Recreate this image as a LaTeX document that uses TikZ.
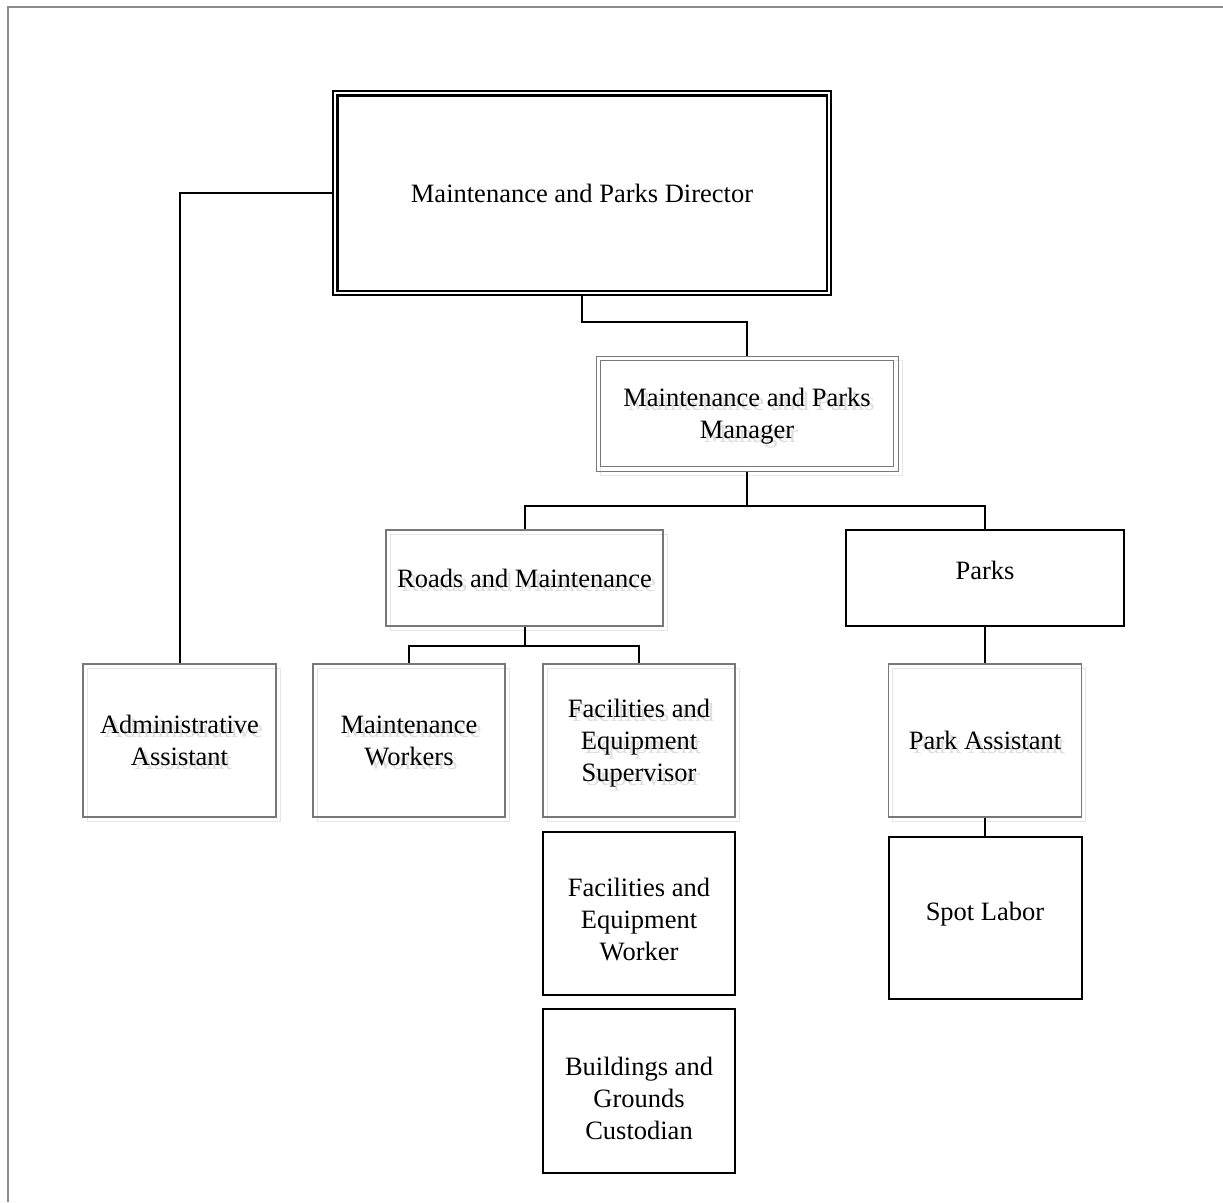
\documentclass[tikz,border=0pt]{standalone}
\usepackage{fontspec}
\setmainfont{Liberation Serif}
\definecolor{boxgrey}{HTML}{787878}
\definecolor{ghosttext}{HTML}{DEDEDE}
\definecolor{ghostline}{HTML}{E6E6E6}
\definecolor{framegrey}{HTML}{8C8C8C}

\tikzset{
  box/.style={rectangle, inner sep=0pt, align=center,
              font=\fontsize{26.5}{32}\selectfont},
  greybox/.style={box, draw=boxgrey, line width=1.2pt},
  blackbox/.style={box, draw=black, line width=2pt},
  ghostbox/.style={box, draw=ghostline, line width=1pt, text=ghosttext},
  link/.style={draw=black, line width=2pt},
  frame/.style={draw=framegrey, line width=2pt}
}

% centred lines moved up (positive) or down (negative) without changing the box size
\newcommand\movedlines[2]{%
  \raisebox{#1}[\height][\depth]{\begin{tabular}{@{}c@{}}#2\end{tabular}}}

% grey box with a light offset copy of its frame and text behind it
\newcommand\shadowedbox[6]{%
  \node[ghostbox, minimum width=#4pt, minimum height=#5pt] (#1-ghost) at (#2+4,#3+4) {#6};
  \node[greybox, minimum width=#4pt, minimum height=#5pt] (#1) at (#2,#3) {#6};
}

\begin{document}
\begin{tikzpicture}[x=1pt, y=-1pt]
\useasboundingbox (0,0) rectangle (1223,1202);

% page frame
\draw[frame] (1223,6.5) -- (7.5,6.5) -- (7.5,1202);

% director (double frame)
\node[box, draw=black, line width=1.5pt, minimum width=498pt, minimum height=204pt]
  (dir) at (582,193) {Maintenance and Parks Director};
\draw[line width=2.5pt] ([shift={(5,5)}]dir.north west) rectangle ([shift={(-5,-5)}]dir.south east);

% manager (double grey frame)
\node[ghostbox, minimum width=302pt, minimum height=115pt] (mgr-ghost) at (751,417.5)
  {\movedlines{-3pt}{Maintenance and Parks\\Manager}};
\node[box, draw=boxgrey, line width=1pt, minimum width=302pt, minimum height=115pt]
  (mgr) at (747,413.5) {\movedlines{-3pt}{Maintenance and Parks\\Manager}};
\draw[draw=boxgrey, line width=1.5pt] ([shift={(5,5)}]mgr.north west) rectangle ([shift={(-5,-5)}]mgr.south east);

% second level
\shadowedbox{roads}{524.5}{578}{277}{96}{Roads and Maintenance}
\node[blackbox, minimum width=278pt, minimum height=96pt] (parks) at (985,578)
  {\movedlines{5pt}{Parks}};

% third level
\shadowedbox{admin}{179.5}{740.5}{193}{153}{Administrative\\Assistant}
\shadowedbox{mw}{409}{740.5}{192}{153}{Maintenance\\Workers}
\shadowedbox{fes}{639}{740.5}{192}{153}{\movedlines{-3pt}{Facilities and\\Equipment\\Supervisor}}
\shadowedbox{pa}{985}{740.5}{193}{153}{Park Assistant}

% lower stacked boxes
\node[blackbox, minimum width=192pt, minimum height=163pt] (few) at (639,913.5)
  {\movedlines{-9pt}{Facilities and\\Equipment\\Worker}};
\node[blackbox, minimum width=192pt, minimum height=164pt] (bgc) at (639,1091)
  {\movedlines{-10pt}{Buildings and\\Grounds\\Custodian}};
\node[blackbox, minimum width=193pt, minimum height=162pt] (spot) at (985,918)
  {\movedlines{4pt}{Spot Labor}};

% connectors
\draw[link] (dir.west) -| (admin.north);
\draw[link] (dir.south) -- ++(0,26) -| (mgr.north);
\draw[link] (mgr.south) -- ++(0,34) coordinate (mgrbus) -| (roads.north);
\draw[link] (mgrbus) -| (parks.north);
\draw[link] (roads.south) -- ++(0,19) coordinate (roadsbus) -| (mw.north);
\draw[link] (roadsbus) -| (fes.north);
\draw[link] (parks.south) -- (pa.north);
\draw[link] (pa.south) -- (spot.north);
\end{tikzpicture}
\end{document}
